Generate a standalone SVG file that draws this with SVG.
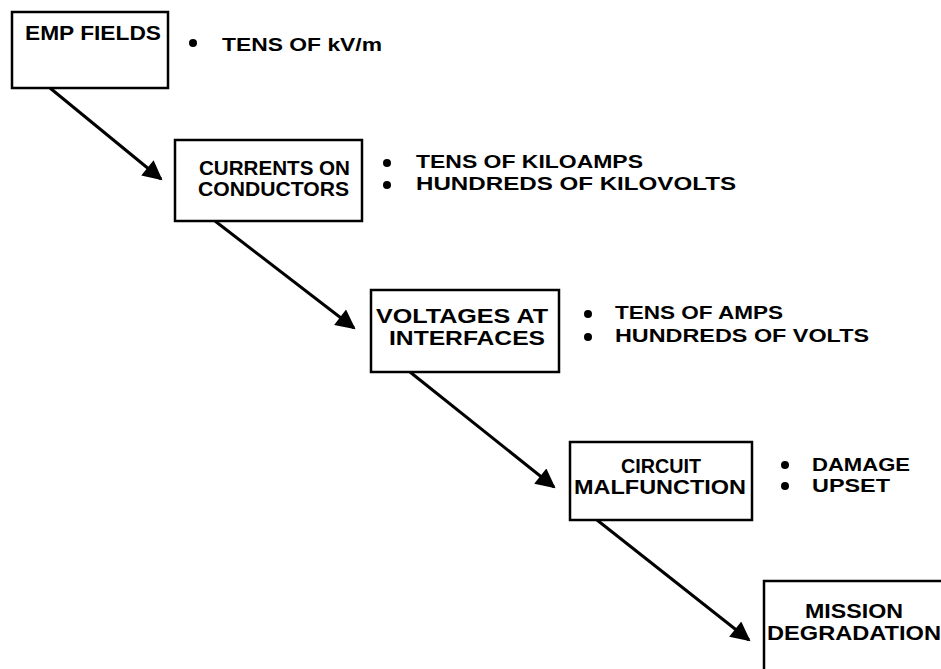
<svg xmlns="http://www.w3.org/2000/svg" width="941" height="669" viewBox="0 0 941 669">
<defs>
<style>
.box{fill:#fff;stroke:#000;stroke-width:2.5}
.t{font-family:"Liberation Sans",Arial,sans-serif;font-weight:bold;fill:#000}
.n{font-size:21px}
.b{font-size:18px}
.c{stroke:#000;stroke-width:3;fill:none}
</style>
<marker id="ah" viewBox="0 0 10 10" refX="9" refY="5" markerWidth="7.5" markerHeight="6.5" markerUnits="strokeWidth" orient="auto">
<path d="M0,0 L10,5 L0,10 Z" fill="#000"/>
</marker>
</defs>
<rect width="941" height="669" fill="#fff"/>
<g id="connectors">
<line class="c" x1="50" y1="88" x2="161" y2="179" marker-end="url(#ah)"/>
<line class="c" x1="215" y1="221" x2="354" y2="328" marker-end="url(#ah)"/>
<line class="c" x1="410" y1="372" x2="554" y2="487" marker-end="url(#ah)"/>
<line class="c" x1="597" y1="520" x2="749" y2="640" marker-end="url(#ah)"/>
</g>
<g id="emp-fields">
<rect class="box" x="12" y="12" width="156" height="76"/>
<text class="t n" x="25" y="40" textLength="136" lengthAdjust="spacingAndGlyphs">EMP FIELDS</text>
<circle cx="193" cy="43" r="4"/>
<text class="t b" x="222" y="51" textLength="160" lengthAdjust="spacingAndGlyphs">TENS OF kV/m</text>
</g>
<g id="currents">
<rect class="box" x="175" y="140" width="187" height="81"/>
<text class="t n" x="199" y="175" textLength="151" lengthAdjust="spacingAndGlyphs">CURRENTS ON</text>
<text class="t n" x="198" y="196" textLength="151" lengthAdjust="spacingAndGlyphs">CONDUCTORS</text>
<circle cx="387" cy="163" r="4"/>
<circle cx="387" cy="185" r="4"/>
<text class="t b" x="416" y="168" textLength="227" lengthAdjust="spacingAndGlyphs">TENS OF KILOAMPS</text>
<text class="t b" x="416" y="190" textLength="320" lengthAdjust="spacingAndGlyphs">HUNDREDS OF KILOVOLTS</text>
</g>
<g id="voltages">
<rect class="box" x="371" y="290" width="188" height="82"/>
<text class="t n" x="376" y="323" textLength="172" lengthAdjust="spacingAndGlyphs">VOLTAGES AT</text>
<text class="t n" x="389" y="345" textLength="156" lengthAdjust="spacingAndGlyphs">INTERFACES</text>
<circle cx="588" cy="314" r="4"/>
<circle cx="588" cy="337" r="4"/>
<text class="t b" x="615" y="319" textLength="168" lengthAdjust="spacingAndGlyphs">TENS OF AMPS</text>
<text class="t b" x="615" y="342" textLength="254" lengthAdjust="spacingAndGlyphs">HUNDREDS OF VOLTS</text>
</g>
<g id="circuit">
<rect class="box" x="570" y="442" width="182" height="78"/>
<text class="t n" x="621" y="473" textLength="80" lengthAdjust="spacingAndGlyphs">CIRCUIT</text>
<text class="t n" x="574" y="494" textLength="172" lengthAdjust="spacingAndGlyphs">MALFUNCTION</text>
<circle cx="785" cy="465" r="4"/>
<circle cx="785" cy="486" r="4"/>
<text class="t b" x="812" y="471" textLength="98" lengthAdjust="spacingAndGlyphs">DAMAGE</text>
<text class="t b" x="812" y="492" textLength="78" lengthAdjust="spacingAndGlyphs">UPSET</text>
</g>
<g id="mission">
<rect class="box" x="764" y="581" width="190" height="100"/>
<text class="t n" x="805" y="618" textLength="98" lengthAdjust="spacingAndGlyphs">MISSION</text>
<text class="t n" x="767" y="640" textLength="174" lengthAdjust="spacingAndGlyphs">DEGRADATION</text>
</g>
</svg>
